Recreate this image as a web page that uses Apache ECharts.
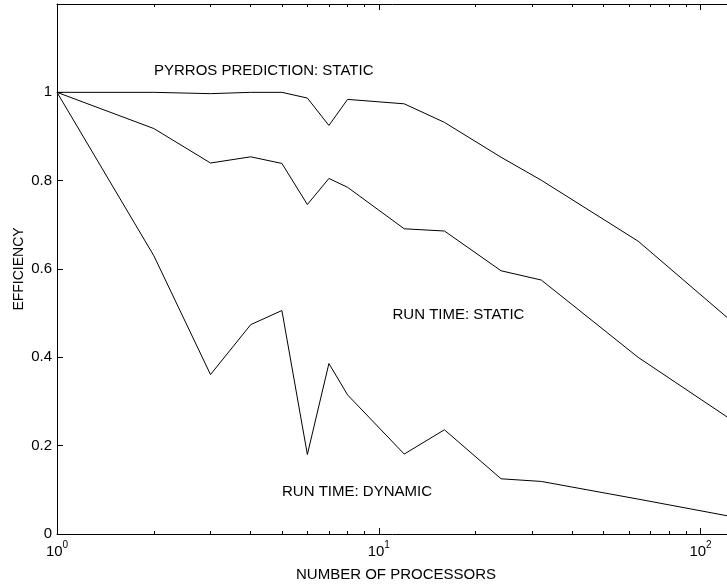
<!DOCTYPE html>
<html>
<head>
<meta charset="utf-8">
<script src="https://cdn.jsdelivr.net/npm/echarts@6/dist/echarts.min.js"></script>
<style>
  html, body { margin: 0; padding: 0; background: #fff; }
  #chart { width: 727px; height: 584px; }
</style>
</head>
<body>
<div id="chart"></div>
<script>
// Processor counts (log-scaled x axis)
const processors = [1, 2, 3, 4, 5, 6, 7, 8, 12, 16, 24, 32, 64, 128];

// Efficiency curves
const pyrrosStatic = [1.000, 1.000, 0.997, 1.000, 1.000, 0.987, 0.925, 0.984, 0.974, 0.932, 0.853, 0.801, 0.663, 0.475];
const runTimeStatic = [1.000, 0.918, 0.840, 0.854, 0.839, 0.746, 0.805, 0.785, 0.691, 0.686, 0.596, 0.575, 0.400, 0.253];
const runTimeDynamic = [1.000, 0.630, 0.361, 0.474, 0.506, 0.180, 0.386, 0.315, 0.181, 0.236, 0.125, 0.119, 0.079, 0.038];

// Axis ticks
const decadeTicks = [1, 10, 100];
const minorTicks = [2, 3, 4, 5, 6, 7, 8, 9, 20, 30, 40, 50, 60, 70, 80, 90];
const efficiencyTicks = [0, 0.2, 0.4, 0.6, 0.8, 1];

// Curve annotations
const curveLabels = ['PYRROS PREDICTION: STATIC', 'RUN TIME: STATIC', 'RUN TIME: DYNAMIC'];

const FONT = "'Liberation Sans', Arial, Helvetica, sans-serif";
const X_MIN = 1, X_MAX = 128;

function pairs(ys) {
  return processors.map((p, i) => [p, ys[i]]);
}

function logAxis(extra) {
  return Object.assign({
    type: 'log',
    logBase: 10,
    min: X_MIN,
    max: X_MAX,
    splitLine: { show: false },
    axisLabel: { show: false },
    axisLine: { show: false },
    axisTick: { show: false }
  }, extra);
}

const chart = echarts.init(document.getElementById('chart'), null, { renderer: 'canvas' });

const option = {
  animation: false,
  backgroundColor: '#fff',
  textStyle: { fontFamily: FONT, color: '#000' },
  grid: { left: 57, right: -8, top: 4, bottom: 50, containLabel: false, outerBoundsMode: 'none' },
  xAxis: [
    logAxis({
      position: 'bottom',
      name: 'NUMBER OF PROCESSORS',
      nameLocation: 'middle',
      nameGap: 33,
      nameMoveOverlap: false,
      nameTextStyle: { fontSize: 15, fontFamily: FONT, color: '#000' },
      axisLine: { show: true, onZero: false, lineStyle: { color: '#000', width: 1 } },
      axisTick: { show: true, inside: true, length: 6, customValues: decadeTicks, lineStyle: { color: '#000' } },
      axisLabel: {
        show: true,
        customValues: decadeTicks,
        margin: 10,
        formatter: v => '{b|10}{e|' + Math.round(Math.log10(v)) + '}',
        rich: {
          b: { fontSize: 15, lineHeight: 15, fontFamily: FONT, color: '#000', verticalAlign: 'bottom' },
          e: { fontSize: 10, lineHeight: 10, fontFamily: FONT, color: '#000', verticalAlign: 'bottom', padding: [0, 0, 9, 0] }
        }
      }
    }),
    logAxis({
      position: 'bottom',
      axisTick: { show: true, inside: true, length: 3, customValues: minorTicks, lineStyle: { color: '#000' } }
    }),
    logAxis({
      position: 'top',
      axisLine: { show: true, onZero: false, lineStyle: { color: '#000', width: 1 } },
      axisTick: { show: true, inside: true, length: 6, customValues: decadeTicks, lineStyle: { color: '#000' } }
    }),
    logAxis({
      position: 'top',
      axisTick: { show: true, inside: true, length: 3, customValues: minorTicks, lineStyle: { color: '#000' } }
    })
  ],
  yAxis: [{
    type: 'value',
    min: 0,
    max: 1.2,
    interval: 0.2,
    position: 'left',
    name: 'EFFICIENCY',
    nameLocation: 'middle',
    nameGap: 31,
    nameMoveOverlap: false,
    nameTextStyle: { fontSize: 14, fontFamily: FONT, color: '#000' },
    splitLine: { show: false },
    axisLine: { show: true, onZero: false, lineStyle: { color: '#000', width: 1 } },
    axisTick: { show: true, inside: true, length: 6, customValues: efficiencyTicks, lineStyle: { color: '#000' } },
    axisLabel: { show: true, customValues: efficiencyTicks, margin: 5, fontSize: 15, fontFamily: FONT, color: '#000' }
  }],
  series: [pyrrosStatic, runTimeStatic, runTimeDynamic].map(ys => ({
    type: 'line',
    xAxisIndex: 0,
    yAxisIndex: 0,
    data: pairs(ys),
    showSymbol: false,
    symbol: 'none',
    lineStyle: { color: '#000', width: 1 },
    silent: true
  })),
  graphic: [
    { type: 'text', x: 154, y: 71, style: { text: curveLabels[0], fontSize: 15, fontFamily: FONT, fill: '#000', verticalAlign: 'middle' } },
    { type: 'text', x: 392.5, y: 315, style: { text: curveLabels[1], fontSize: 15, fontFamily: FONT, fill: '#000', verticalAlign: 'middle' } },
    { type: 'text', x: 282, y: 492, style: { text: curveLabels[2], fontSize: 15, fontFamily: FONT, fill: '#000', verticalAlign: 'middle' } }
  ]
};

chart.setOption(option);
</script>
</body>
</html>
